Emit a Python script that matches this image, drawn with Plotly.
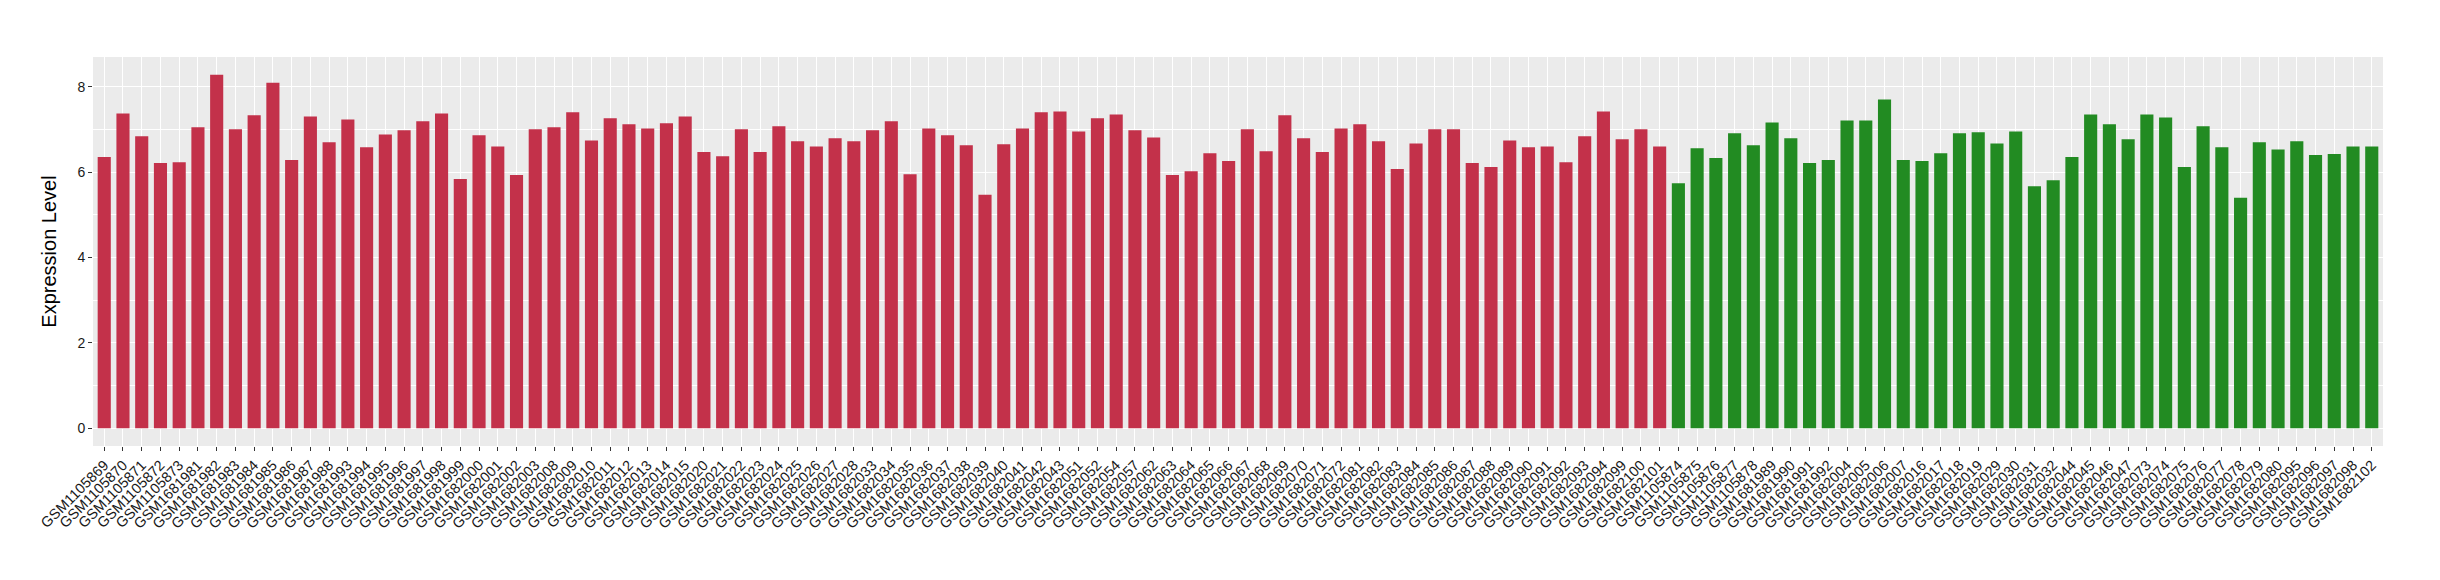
import plotly.graph_objects as go

# samples in group 1 (red) and their expression levels
red_samples = [
    "GSM1105869", "GSM1105870", "GSM1105871", "GSM1105872", "GSM1105873",
    "GSM1681981", "GSM1681982", "GSM1681983", "GSM1681984", "GSM1681985",
    "GSM1681986", "GSM1681987", "GSM1681988", "GSM1681993", "GSM1681994",
    "GSM1681995", "GSM1681996", "GSM1681997", "GSM1681998", "GSM1681999",
    "GSM1682000", "GSM1682001", "GSM1682002", "GSM1682003", "GSM1682008",
    "GSM1682009", "GSM1682010", "GSM1682011", "GSM1682012", "GSM1682013",
    "GSM1682014", "GSM1682015", "GSM1682020", "GSM1682021", "GSM1682022",
    "GSM1682023", "GSM1682024", "GSM1682025", "GSM1682026", "GSM1682027",
    "GSM1682028", "GSM1682033", "GSM1682034", "GSM1682035", "GSM1682036",
    "GSM1682037", "GSM1682038", "GSM1682039", "GSM1682040", "GSM1682041",
    "GSM1682042", "GSM1682043", "GSM1682051", "GSM1682052", "GSM1682054",
    "GSM1682057", "GSM1682062", "GSM1682063", "GSM1682064", "GSM1682065",
    "GSM1682066", "GSM1682067", "GSM1682068", "GSM1682069", "GSM1682070",
    "GSM1682071", "GSM1682072", "GSM1682081", "GSM1682082", "GSM1682083",
    "GSM1682084", "GSM1682085", "GSM1682086", "GSM1682087", "GSM1682088",
    "GSM1682089", "GSM1682090", "GSM1682091", "GSM1682092", "GSM1682093",
    "GSM1682094", "GSM1682099", "GSM1682100", "GSM1682101",
]
red_values = [
    6.35, 7.37, 6.84, 6.21, 6.23, 7.05, 8.28, 7.00, 7.33, 8.09,
    6.28, 7.30, 6.70, 7.23, 6.58, 6.88, 6.98, 7.19, 7.37, 5.84,
    6.86, 6.60, 5.93, 7.00, 7.05, 7.40, 6.74, 7.26, 7.12, 7.02,
    7.14, 7.30, 6.47, 6.37, 7.00, 6.47, 7.07, 6.72, 6.60, 6.79,
    6.72, 6.98, 7.19, 5.95, 7.02, 6.86, 6.63, 5.47, 6.65, 7.02,
    7.40, 7.42, 6.95, 7.26, 7.35, 6.98, 6.81, 5.93, 6.02, 6.44,
    6.26, 7.00, 6.49, 7.33, 6.79, 6.47, 7.02, 7.12, 6.72, 6.07,
    6.67, 7.00, 7.00, 6.21, 6.12, 6.74, 6.58, 6.60, 6.23, 6.84,
    7.42, 6.77, 7.00, 6.60,
]

# samples in group 2 (green)
green_samples = [
    "GSM1105874", "GSM1105875", "GSM1105876", "GSM1105877", "GSM1105878",
    "GSM1681989", "GSM1681990", "GSM1681991", "GSM1681992", "GSM1682004",
    "GSM1682005", "GSM1682006", "GSM1682007", "GSM1682016", "GSM1682017",
    "GSM1682018", "GSM1682019", "GSM1682029", "GSM1682030", "GSM1682031",
    "GSM1682032", "GSM1682044", "GSM1682045", "GSM1682046", "GSM1682047",
    "GSM1682073", "GSM1682074", "GSM1682075", "GSM1682076", "GSM1682077",
    "GSM1682078", "GSM1682079", "GSM1682080", "GSM1682095", "GSM1682096",
    "GSM1682097", "GSM1682098", "GSM1682102",
]
green_values = [
    5.74, 6.56, 6.33, 6.91, 6.63, 7.16, 6.79, 6.21, 6.28, 7.21,
    7.21, 7.70, 6.28, 6.26, 6.44, 6.91, 6.93, 6.67, 6.95, 5.67,
    5.81, 6.35, 7.35, 7.12, 6.77, 7.35, 7.28, 6.12, 7.07, 6.58,
    5.40, 6.70, 6.53, 6.72, 6.40, 6.42, 6.60, 6.60,
]

font_family = "Liberation Sans, Arial, sans-serif"

fig = go.Figure()

fig.add_trace(go.Bar(
    x=red_samples,
    y=red_values,
    width=0.7,
    marker=dict(color="#C3314A", line_width=0),
    showlegend=False,
))

fig.add_trace(go.Bar(
    x=green_samples,
    y=green_values,
    width=0.7,
    marker=dict(color="#228B22", line_width=0),
    showlegend=False,
))

all_samples = red_samples + green_samples
n = len(all_samples)

fig.update_layout(
    width=2440,
    height=580,
    barmode="overlay",
    margin=dict(l=93, r=57, t=57, b=134),
    paper_bgcolor="white",
    plot_bgcolor="#EBEBEB",
    font=dict(family=font_family, color="#1A1A1A"),
    xaxis=dict(
        type="category",
        categoryorder="array",
        categoryarray=all_samples,
        range=[-0.6, n - 0.4],
        automargin=False,
        showgrid=True,
        gridcolor="white",
        gridwidth=1.1,
        tickangle=-45,
        ticks="outside",
        ticklen=4,
        tickwidth=1,
        tickcolor="#333333",
        tickfont=dict(size=14.5, color="#1A1A1A"),
        showline=False,
        zeroline=False,
    ),
    yaxis=dict(
        title=dict(text="Expression Level", font=dict(size=20, color="black")),
        automargin=False,
        range=[-0.414, 8.694],
        tickvals=[0, 2, 4, 6, 8],
        showgrid=True,
        gridcolor="white",
        gridwidth=1.1,
        minor=dict(tickvals=[1, 3, 5, 7], showgrid=True, gridcolor="white", gridwidth=0.55),
        ticks="outside",
        ticklen=4,
        tickwidth=1,
        tickcolor="#333333",
        tickfont=dict(size=14, color="#1A1A1A"),
        zeroline=False,
        showline=False,
    ),
)

# drop the browser's default body margin so the figure sits at the page origin
fig.write_html(
    "out.html",
    config={"displayModeBar": False},
    post_script="document.body.style.margin = '0';",
)
